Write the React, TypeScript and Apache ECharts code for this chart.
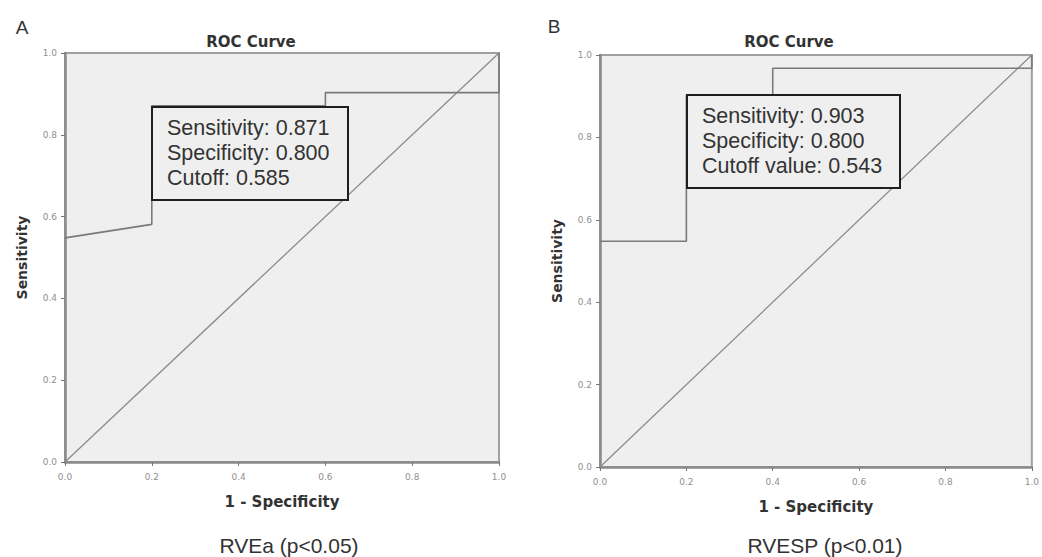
import React, { useEffect, useRef } from "react";
import * as echarts from "echarts";

// Panel A (RVEa) ROC curve: 1 - specificity vs sensitivity
const rocAFpr = [0, 0.2, 0.2, 0.6, 0.6, 1.0, 1.0];
const rocATpr = [0.548, 0.581, 0.871, 0.871, 0.903, 0.903, 1.0];
// Panel B (RVESP) ROC curve
const rocBFpr = [0, 0.2, 0.2, 0.4, 0.4, 1.0, 1.0];
const rocBTpr = [0.548, 0.548, 0.903, 0.903, 0.968, 0.968, 1.0];
// Reference line
const diagX = [0, 1];
const diagY = [0, 1];

const panelLetters = ["A", "B"];
const chartTitles = ["ROC Curve", "ROC Curve"];
const xAxisName = "1 - Specificity";
const yAxisName = "Sensitivity";
const bottomLabels = ["RVEa (p<0.05)", "RVESP (p<0.01)"];
const boxTextA = ["Sensitivity: 0.871", "Specificity: 0.800", "Cutoff: 0.585"];
const boxTextB = ["Sensitivity: 0.903", "Specificity: 0.800", "Cutoff value: 0.543"];

const pairs = (xs: number[], ys: number[]) => xs.map((x, i) => [x, ys[i]]);

export default function App() {
  const ref = useRef<HTMLDivElement>(null);
  useEffect(() => {
    document.body.style.margin = "0";
    document.body.style.overflow = "hidden";
    const chart = echarts.init(ref.current!, undefined, { renderer: "svg" });
    const grids = [
      { left: 65, top: 53, width: 434, height: 409 },
      { left: 600, top: 55, width: 439, height: 412 },
    ];
    const axisCommon = {
      type: "value" as const,
      min: 0,
      max: 1,
      interval: 0.2,
      splitLine: { show: false },
      axisLine: { show: true, lineStyle: { color: "#8a8a8a", width: 2.5 } },
      axisTick: { show: true, length: 4, lineStyle: { color: "#777", width: 1 } },
      axisLabel: {
        fontSize: 9,
        color: "#8f8f8f",
        fontFamily: "DejaVu Sans",
        formatter: (v: number) => v.toFixed(1),
      },
      nameLocation: "middle" as const,
      nameTextStyle: { fontFamily: "DejaVu Sans", fontWeight: "bold" as const, color: "#333" },
    };
    const xAxes = grids.map((_, i) => ({
      ...axisCommon,
      gridIndex: i,
      name: xAxisName,
      nameGap: 32,
      nameTextStyle: { ...axisCommon.nameTextStyle, fontSize: 15 },
      axisLabel: { ...axisCommon.axisLabel, margin: 10 },
    }));
    const yAxes = grids.map((_, i) => ({
      ...axisCommon,
      gridIndex: i,
      name: yAxisName,
      nameGap: 36,
      nameTextStyle: { ...axisCommon.nameTextStyle, fontSize: 14 },
      axisLabel: { ...axisCommon.axisLabel, margin: 8 },
    }));
    const lineSeries = (xi: number, xs: number[], ys: number[], color: string, w: number) => ({
      type: "line" as const,
      xAxisIndex: xi,
      yAxisIndex: xi,
      data: pairs(xs, ys),
      symbol: "none",
      lineStyle: { color, width: w },
      silent: true,
    });
    const box = (x: number, y: number, w: number, h: number, lines: string[]) => ({
      type: "group",
      z: 100,
      children: [
        {
          type: "rect",
          z: 100,
          shape: { x, y, width: w, height: h },
          style: { fill: "#efefef", stroke: "#1e1e1e", lineWidth: 2 },
        },
        {
          type: "text",
          z: 101,
          x: x + 15,
          y: y + 8,
          style: {
            text: lines.join("\n"),
            fontFamily: "Liberation Sans",
            fontSize: 21.5,
            lineHeight: 25,
            fill: "#333",
            verticalAlign: "top",
          },
        },
      ],
    });
    const txt = (x: number, y: number, text: string, size: number, bold: boolean, family: string, align = "center") => ({
      type: "text",
      z: 100,
      x,
      y,
      style: {
        text,
        fontFamily: family,
        fontSize: size,
        fontWeight: bold ? "bold" : "normal",
        fill: "#333",
        align,
        verticalAlign: "middle",
      },
    });
    chart.setOption({
      animation: false,
      backgroundColor: "#ffffff",
      grid: grids.map((g) => ({
        ...g,
        show: true,
        backgroundColor: "#efefef",
        borderColor: "#a0a0a0",
        borderWidth: 2,
      })),
      xAxis: xAxes,
      yAxis: yAxes,
      series: [
        lineSeries(0, diagX, diagY, "#8c8c8c", 1.3),
        lineSeries(0, rocAFpr, rocATpr, "#7a7a7a", 1.6),
        lineSeries(1, diagX, diagY, "#8c8c8c", 1.3),
        lineSeries(1, rocBFpr, rocBTpr, "#7a7a7a", 1.6),
      ],
      graphic: [
        box(152, 107, 196, 93, boxTextA),
        box(687, 95, 213, 93, boxTextB),
        txt(22, 27, panelLetters[0], 19, false, "Liberation Sans"),
        txt(554, 26, panelLetters[1], 19, false, "Liberation Sans"),
        txt(251, 42, chartTitles[0], 15, true, "DejaVu Sans"),
        txt(789, 42, chartTitles[1], 15, true, "DejaVu Sans"),
        txt(289, 545, bottomLabels[0], 21, false, "Liberation Sans"),
        txt(825, 545, bottomLabels[1], 21, false, "Liberation Sans"),
      ],
    });
    return () => chart.dispose();
  }, []);
  return <div ref={ref} style={{ width: 1042, height: 557 }} />;
}
